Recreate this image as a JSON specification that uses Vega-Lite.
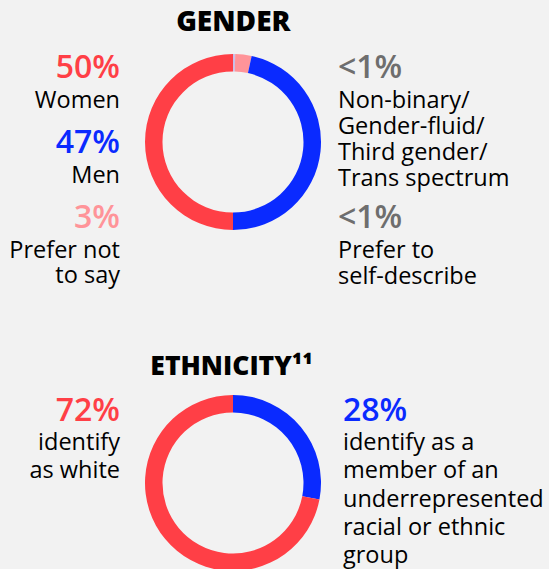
{
  "$schema": "https://vega.github.io/schema/vega-lite/v6.json",
  "background": "#F2F2F2",
  "padding": {"top": 9, "left": 0, "right": 0, "bottom": 0},
  "bounds": "flush",
  "spacing": 140,
  "config": {"view": {"stroke": null}, "font": "Open Sans"},
  "datasets": {
    "gender": [
      {"category": "Non-binary/Gender-fluid/Third gender/Trans spectrum", "value": 0.2, "order": 1, "side": "right", "slot": 0, "pct": "<1%", "label": "Non-binary/\nGender-fluid/\nThird gender/\nTrans spectrum"},
      {"category": "Prefer to self-describe", "value": 0.2, "order": 2, "side": "right", "slot": 2, "pct": "<1%", "label": "Prefer to\nself-describe"},
      {"category": "Prefer not to say", "value": 3, "order": 3, "side": "left", "slot": 2, "pct": "3%", "label": "Prefer not\nto say"},
      {"category": "Men", "value": 46.6, "order": 4, "side": "left", "slot": 1, "pct": "47%", "label": "Men"},
      {"category": "Women", "value": 50, "order": 5, "side": "left", "slot": 0, "pct": "50%", "label": "Women"}
    ],
    "ethnicity": [
      {"category": "Underrepresented racial or ethnic group", "value": 28, "order": 1, "side": "right", "slot": 0, "pct": "28%", "label": "identify as a\nmember of an\nunderrepresented\nracial or ethnic\ngroup"},
      {"category": "White", "value": 72, "order": 2, "side": "left", "slot": 0, "pct": "72%", "label": "identify\nas white"}
    ]
  },
  "vconcat": [
    {
      "width": 549,
      "height": 202,
      "title": {"text": "GENDER", "fontSize": 28, "fontWeight": 800, "anchor": "middle", "dx": -41.2, "offset": -18, "baseline": "alphabetic", "color": "#000000"},
      "data": {"name": "gender"},
      "layer": [
        {
          "mark": {"type": "arc", "innerRadius": 70.5, "outerRadius": 88},
          "encoding": {
            "x": {"datum": "center", "type": "nominal", "scale": {"type": "point", "domain": ["left", "center", "right"], "range": [120, 346], "padding": 0}, "axis": null},
            "theta": {"field": "value", "type": "quantitative", "stack": true},
            "order": {"field": "order", "type": "quantitative"},
            "color": {"field": "category", "type": "nominal", "legend": null,
              "scale": {"domain": ["Women", "Men", "Prefer not to say", "Non-binary/Gender-fluid/Third gender/Trans spectrum", "Prefer to self-describe", "White", "Underrepresented racial or ethnic group"],
                        "range": ["#FF3F46", "#0A2AFF", "#FF9499", "#C9BEE8", "#C9BEE8", "#FF3F46", "#0A2AFF"]}}
          }
        },
        {
          "transform": [{"filter": "datum.side == 'left'"}],
          "mark": {"type": "text", "align": "right", "baseline": "alphabetic", "fontSize": 32, "fontWeight": 600},
          "encoding": {
            "x": {"field": "side", "type": "nominal", "scale": {"type": "point", "domain": ["left", "center", "right"], "range": [120, 346], "padding": 0}, "axis": null},
            "y": {"field": "slot", "type": "ordinal", "scale": {"type": "point", "domain": [0, 1, 2], "range": [37, 187], "padding": 0}, "axis": null},
            "text": {"field": "pct"},
            "fill": {"field": "category", "type": "nominal", "legend": null,
              "scale": {"domain": ["Women", "Men", "Prefer not to say", "Non-binary/Gender-fluid/Third gender/Trans spectrum", "Prefer to self-describe", "White", "Underrepresented racial or ethnic group"],
                        "range": ["#FF3F46", "#0A2AFF", "#FF9499", "#6E6E6E", "#6E6E6E", "#FF3F46", "#0A2AFF"]}}
          }
        },
        {
          "transform": [{"filter": "datum.side == 'right'"}],
          "mark": {"type": "text", "align": "left", "baseline": "alphabetic", "fontSize": 32, "fontWeight": 600, "dx": -8},
          "encoding": {
            "x": {"field": "side", "type": "nominal", "scale": {"type": "point", "domain": ["left", "center", "right"], "range": [120, 346], "padding": 0}, "axis": null},
            "y": {"field": "slot", "type": "ordinal", "scale": {"type": "point", "domain": [0, 1, 2], "range": [37, 187], "padding": 0}, "axis": null},
            "text": {"field": "pct"},
            "fill": {"field": "category", "type": "nominal", "legend": null,
              "scale": {"domain": ["Women", "Men", "Prefer not to say", "Non-binary/Gender-fluid/Third gender/Trans spectrum", "Prefer to self-describe", "White", "Underrepresented racial or ethnic group"],
                        "range": ["#FF3F46", "#0A2AFF", "#FF9499", "#6E6E6E", "#6E6E6E", "#FF3F46", "#0A2AFF"]}}
          }
        },
        {
          "transform": [{"filter": "datum.side == 'left'"}],
          "mark": {"type": "text", "align": "right", "baseline": "alphabetic", "fontSize": 23.5, "lineHeight": 25, "lineBreak": "\n", "dy": 30, "color": "#000000"},
          "encoding": {
            "x": {"field": "side", "type": "nominal", "scale": {"type": "point", "domain": ["left", "center", "right"], "range": [120, 346], "padding": 0}, "axis": null},
            "y": {"field": "slot", "type": "ordinal", "scale": {"type": "point", "domain": [0, 1, 2], "range": [37, 187], "padding": 0}, "axis": null},
            "text": {"field": "label"}
          }
        },
        {
          "transform": [{"filter": "datum.side == 'right'"}],
          "mark": {"type": "text", "align": "left", "baseline": "alphabetic", "fontSize": 23.5, "lineHeight": 26, "lineBreak": "\n", "dy": 30, "dx": -8, "color": "#000000"},
          "encoding": {
            "x": {"field": "side", "type": "nominal", "scale": {"type": "point", "domain": ["left", "center", "right"], "range": [120, 346], "padding": 0}, "axis": null},
            "y": {"field": "slot", "type": "ordinal", "scale": {"type": "point", "domain": [0, 1, 2], "range": [37, 187], "padding": 0}, "axis": null},
            "text": {"field": "label"}
          }
        }
      ]
    },
    {
      "width": 549,
      "height": 200,
      "title": {"text": "ETHNICITY¹¹", "fontSize": 26.5, "fontWeight": 800, "anchor": "middle", "dx": -42.8, "offset": -18, "baseline": "alphabetic", "color": "#000000"},
      "data": {"name": "ethnicity"},
      "layer": [
        {
          "mark": {"type": "arc", "innerRadius": 70.5, "outerRadius": 88},
          "encoding": {
            "x": {"datum": "center", "type": "nominal", "scale": {"type": "point", "domain": ["left", "center", "right"], "range": [120, 346], "padding": 0}, "axis": null},
            "theta": {"field": "value", "type": "quantitative", "stack": true},
            "order": {"field": "order", "type": "quantitative"},
            "color": {"field": "category", "type": "nominal", "legend": null,
              "scale": {"domain": ["Women", "Men", "Prefer not to say", "Non-binary/Gender-fluid/Third gender/Trans spectrum", "Prefer to self-describe", "White", "Underrepresented racial or ethnic group"],
                        "range": ["#FF3F46", "#0A2AFF", "#FF9499", "#C9BEE8", "#C9BEE8", "#FF3F46", "#0A2AFF"]}}
          }
        },
        {
          "transform": [{"filter": "datum.side == 'left'"}],
          "mark": {"type": "text", "align": "right", "baseline": "alphabetic", "fontSize": 32, "fontWeight": 600},
          "encoding": {
            "x": {"field": "side", "type": "nominal", "scale": {"type": "point", "domain": ["left", "center", "right"], "range": [120, 346], "padding": 0}, "axis": null},
            "y": {"field": "slot", "type": "ordinal", "scale": {"type": "point", "domain": [0], "range": [38, 38], "padding": 0}, "axis": null},
            "text": {"field": "pct"},
            "fill": {"field": "category", "type": "nominal", "legend": null,
              "scale": {"domain": ["Women", "Men", "Prefer not to say", "Non-binary/Gender-fluid/Third gender/Trans spectrum", "Prefer to self-describe", "White", "Underrepresented racial or ethnic group"],
                        "range": ["#FF3F46", "#0A2AFF", "#FF9499", "#6E6E6E", "#6E6E6E", "#FF3F46", "#0A2AFF"]}}
          }
        },
        {
          "transform": [{"filter": "datum.side == 'right'"}],
          "mark": {"type": "text", "align": "left", "baseline": "alphabetic", "fontSize": 32, "fontWeight": 600, "dx": -3},
          "encoding": {
            "x": {"field": "side", "type": "nominal", "scale": {"type": "point", "domain": ["left", "center", "right"], "range": [120, 346], "padding": 0}, "axis": null},
            "y": {"field": "slot", "type": "ordinal", "scale": {"type": "point", "domain": [0], "range": [38, 38], "padding": 0}, "axis": null},
            "text": {"field": "pct"},
            "fill": {"field": "category", "type": "nominal", "legend": null,
              "scale": {"domain": ["Women", "Men", "Prefer not to say", "Non-binary/Gender-fluid/Third gender/Trans spectrum", "Prefer to self-describe", "White", "Underrepresented racial or ethnic group"],
                        "range": ["#FF3F46", "#0A2AFF", "#FF9499", "#6E6E6E", "#6E6E6E", "#FF3F46", "#0A2AFF"]}}
          }
        },
        {
          "transform": [{"filter": "datum.side == 'left'"}],
          "mark": {"type": "text", "align": "right", "baseline": "alphabetic", "fontSize": 23.5, "lineHeight": 28, "lineBreak": "\n", "dy": 29, "color": "#000000"},
          "encoding": {
            "x": {"field": "side", "type": "nominal", "scale": {"type": "point", "domain": ["left", "center", "right"], "range": [120, 346], "padding": 0}, "axis": null},
            "y": {"field": "slot", "type": "ordinal", "scale": {"type": "point", "domain": [0], "range": [38, 38], "padding": 0}, "axis": null},
            "text": {"field": "label"}
          }
        },
        {
          "transform": [{"filter": "datum.side == 'right'"}],
          "mark": {"type": "text", "align": "left", "baseline": "alphabetic", "fontSize": 23.5, "lineHeight": 28.3, "lineBreak": "\n", "dy": 29, "dx": -3, "color": "#000000"},
          "encoding": {
            "x": {"field": "side", "type": "nominal", "scale": {"type": "point", "domain": ["left", "center", "right"], "range": [120, 346], "padding": 0}, "axis": null},
            "y": {"field": "slot", "type": "ordinal", "scale": {"type": "point", "domain": [0], "range": [38, 38], "padding": 0}, "axis": null},
            "text": {"field": "label"}
          }
        }
      ]
    }
  ]
}
